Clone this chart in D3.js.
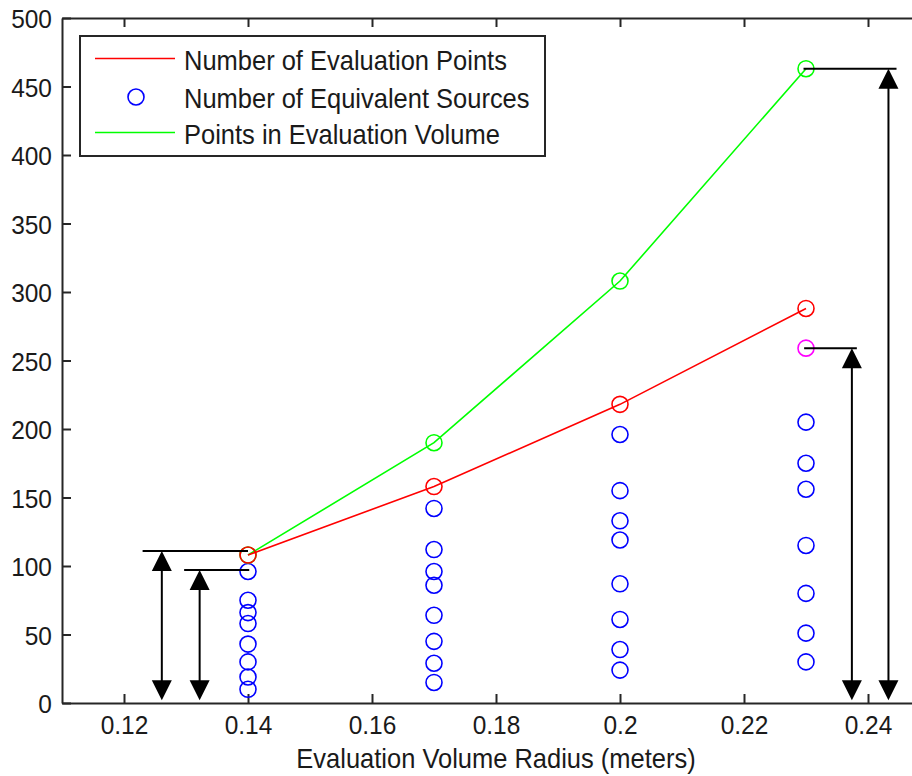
<!DOCTYPE html>
<html>
<head>
<meta charset="utf-8">
<script src="https://cdn.jsdelivr.net/npm/d3@7"></script>
<style>
  body { margin: 0; background: #fff; }
  svg { display: block; font-family: "Liberation Sans", Arial, sans-serif; }
</style>
</head>
<body>
<div id="chart"></div>
<script>
// values
var radii = [0.14, 0.17, 0.2, 0.23];
var evalPoints = [108, 158, 218, 288];
var volumePoints = [108, 190, 308, 463];
var sourceCounts = [
    [96, 75, 66, 58, 43, 30, 19, 10],
    [142, 112, 96, 86, 64, 45, 29, 15],
    [196, 155, 133, 119, 87, 61, 39, 24],
    [205, 175, 156, 115, 80, 51, 30]
];
var highlightRadius = [0.23];
var highlightSources = [259];

// annotation arrows (data units)
var arrowX = [0.1261, 0.1322, 0.2374, 0.2433];
var arrowTop = [111, 97, 259, 463];
var barFrom = [0.123, 0.1297, 0.2297, 0.2296];
var barTo = [0.14, 0.1402, 0.2382, 0.2446];

var xTicks = [0.12, 0.14, 0.16, 0.18, 0.2, 0.22, 0.24];
var yTicks = [0, 50, 100, 150, 200, 250, 300, 350, 400, 450, 500];
var legendLabels = ["Number of Evaluation Points", "Number of Equivalent Sources", "Points in Evaluation Volume"];
var xLabel = "Evaluation Volume Radius (meters)";

var width = 912, height = 776;
var stretch = 1.08; // text in the source is a little taller than wide

var svg = d3.select("#chart").append("svg")
    .attr("width", width)
    .attr("height", height);

svg.append("rect").attr("width", width).attr("height", height).attr("fill", "#fff");

var x = d3.scaleLinear().domain([0.11, 0.25]).range([62, 930]);
var y = d3.scaleLinear().domain([0, 500]).range([703, 18]);

var axisColor = "#262626";

function styleAxis(g) {
    g.selectAll(".domain").attr("stroke", axisColor).attr("stroke-width", 2);
    g.selectAll(".tick line").attr("stroke", axisColor).attr("stroke-width", 2);
    g.selectAll(".tick text")
        .attr("fill", "#1a1a1a")
        .style("font-size", "24.5px")
        .attr("transform", "scale(1," + stretch + ")");
}

// box axes, ticks inward like matlab
svg.append("g")
    .attr("transform", "translate(0," + y(0) + ")")
    .call(d3.axisBottom(x).tickValues(xTicks).tickFormat(d3.format("~g"))
        .tickSizeInner(-9).tickSizeOuter(0).tickPadding(11))
    .call(styleAxis);

svg.append("g")
    .attr("transform", "translate(" + x.range()[0] + ",0)")
    .call(d3.axisLeft(y).tickValues(yTicks).tickSizeInner(-9).tickSizeOuter(0).tickPadding(10))
    .call(styleAxis)
    .selectAll(".tick text").attr("dy", "0.37em");

svg.append("g")
    .attr("transform", "translate(0," + y(500) + ")")
    .call(d3.axisTop(x).tickValues(xTicks).tickFormat("").tickSizeInner(-9).tickSizeOuter(0))
    .call(styleAxis);

svg.append("g")
    .attr("transform", "translate(" + x.range()[1] + ",0)")
    .call(d3.axisRight(y).tickValues(yTicks).tickFormat("").tickSizeInner(-9).tickSizeOuter(0))
    .call(styleAxis);

// x label
svg.append("text")
    .attr("transform", "translate(" + d3.mean(x.range()) + ",768) scale(1," + stretch + ")")
    .attr("text-anchor", "middle")
    .attr("fill", "#1a1a1a")
    .style("font-size", "25.5px")
    .text(xLabel);

// blue equivalent-source markers
var sourcePts = [];
sourceCounts.forEach(function (col, i) {
    col.forEach(function (v) { sourcePts.push([radii[i], v]); });
});

svg.selectAll(".source")
    .data(sourcePts)
    .join("circle")
    .attr("class", "source")
    .attr("cx", d => x(d[0]))
    .attr("cy", d => y(d[1]))
    .attr("r", 8)
    .attr("fill", "none")
    .attr("stroke", "#0000ff")
    .attr("stroke-width", 1.6);

svg.selectAll(".highlight")
    .data(highlightRadius.map((r, i) => [r, highlightSources[i]]))
    .join("circle")
    .attr("class", "highlight")
    .attr("cx", d => x(d[0]))
    .attr("cy", d => y(d[1]))
    .attr("r", 8)
    .attr("fill", "none")
    .attr("stroke", "#ff00ff")
    .attr("stroke-width", 1.6);

// lines with circle markers
var line = d3.line().x(d => x(d[0])).y(d => y(d[1]));

function drawSeries(values, color) {
    var pts = radii.map((r, i) => [r, values[i]]);
    svg.append("path")
        .datum(pts)
        .attr("d", line)
        .attr("fill", "none")
        .attr("stroke", color)
        .attr("stroke-width", 1.6);
    svg.append("g").selectAll("circle")
        .data(pts)
        .join("circle")
        .attr("cx", d => x(d[0]))
        .attr("cy", d => y(d[1]))
        .attr("r", 8)
        .attr("fill", "none")
        .attr("stroke", color)
        .attr("stroke-width", 1.6);
}
drawSeries(volumePoints, "#00ff00");
drawSeries(evalPoints, "#ff0000");

// annotation arrows
var headW = 10, headH = 20;
var arrows = svg.append("g").attr("class", "arrows");
arrowX.forEach(function (ax, i) {
    var px = x(ax), top = y(arrowTop[i]), bottom = y(2);
    arrows.append("line")
        .attr("x1", x(barFrom[i])).attr("x2", x(barTo[i]))
        .attr("y1", top).attr("y2", top)
        .attr("stroke", "#000").attr("stroke-width", 2);
    arrows.append("line")
        .attr("x1", px).attr("x2", px)
        .attr("y1", top + headH - 2).attr("y2", bottom - headH + 2)
        .attr("stroke", "#000").attr("stroke-width", 2);
    arrows.append("path")
        .attr("d", "M" + px + "," + top + "L" + (px - headW) + "," + (top + headH) + "L" + (px + headW) + "," + (top + headH) + "Z")
        .attr("fill", "#000");
    arrows.append("path")
        .attr("d", "M" + px + "," + bottom + "L" + (px - headW) + "," + (bottom - headH) + "L" + (px + headW) + "," + (bottom - headH) + "Z")
        .attr("fill", "#000");
});

// legend
var legend = svg.append("g").attr("transform", "translate(80,36)");
legend.append("rect")
    .attr("width", 465).attr("height", 120)
    .attr("fill", "#fff").attr("stroke", axisColor).attr("stroke-width", 2);

var rowY = [22.5, 61, 96.5];
var legendColors = ["#ff0000", "#0000ff", "#00ff00"];
legendLabels.forEach(function (lab, i) {
    if (i === 1) {
        legend.append("circle")
            .attr("cx", 56).attr("cy", rowY[i]).attr("r", 8)
            .attr("fill", "none").attr("stroke", legendColors[i]).attr("stroke-width", 1.6);
    } else {
        legend.append("line")
            .attr("x1", 15).attr("x2", 95)
            .attr("y1", rowY[i]).attr("y2", rowY[i])
            .attr("stroke", legendColors[i]).attr("stroke-width", 1.6);
    }
    legend.append("text")
        .attr("transform", "translate(104," + (rowY[i] + 11) + ") scale(1," + stretch + ")")
        .attr("fill", "#1a1a1a")
        .style("font-size", "25.5px")
        .text(lab);
});
</script>
</body>
</html>
